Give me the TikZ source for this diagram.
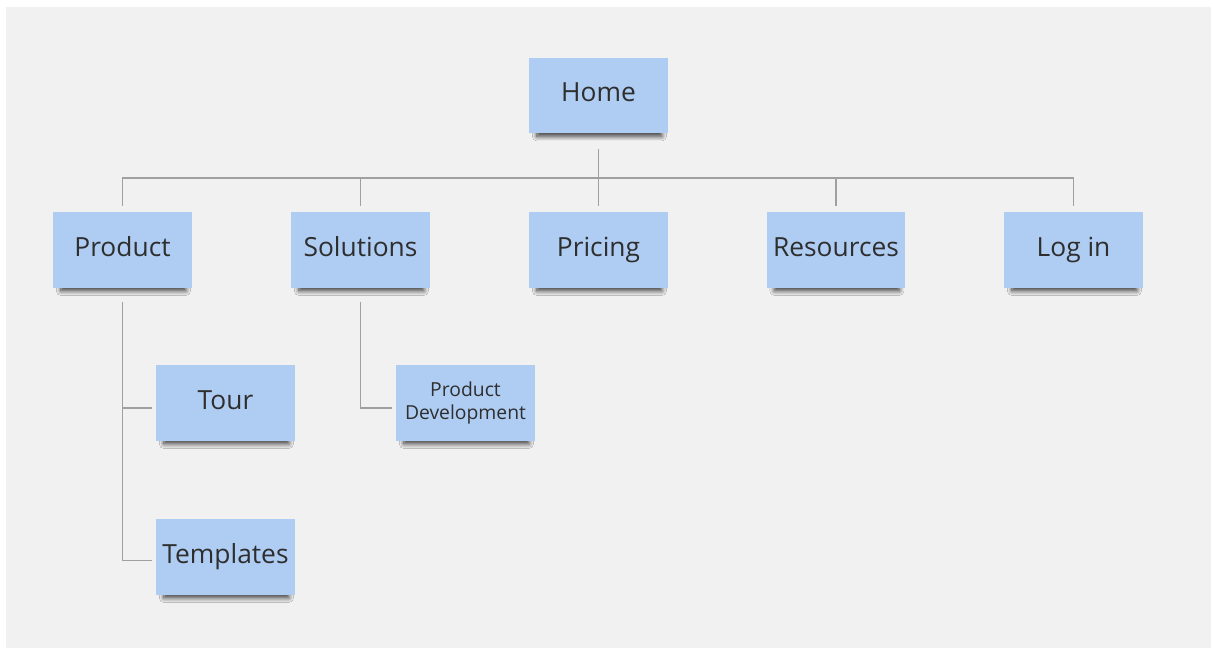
\documentclass[tikz,border=0pt]{standalone}
\usepackage{fontspec}
\setmainfont{Open Sans}
\usetikzlibrary{shadows.blur}

\definecolor{note}{HTML}{AFCDF3}
\definecolor{board}{HTML}{F1F1F1}
\definecolor{wire}{HTML}{A0A0A0}
\definecolor{ink}{HTML}{2E2E2E}

\tikzset{
    sticky/.style={fill=note, text=ink, minimum width=2.78cm, minimum height=1.52cm,
        inner sep=0pt, align=center, font=\fontsize{15}{18}\selectfont,
        text height=11pt, text depth=4pt,
        blur shadow={shadow xshift=0.02cm, shadow yshift=-0.15cm, shadow scale=0.9,
            shadow blur radius=0.1cm, shadow blur steps=10, shadow opacity=75}},
    link/.style={draw=wire, line width=0.9pt}
}

\begin{document}
\begin{tikzpicture}[x=0.02cm, y=-0.02cm]
    % board
    \fill[white] (0,0) rectangle (1213,651);
    \fill[board] (6,7) rectangle (1211,648);

    % top level
    \node[sticky](home)      at (598.5,95.5) {Home};
    \node[sticky](product)   at (122.5,250)  {Product};
    \node[sticky](solutions) at (360.5,250)  {Solutions};
    \node[sticky](pricing)   at (598.5,250)  {Pricing};
    \node[sticky](resources) at (836,250)    {Resources};
    \node[sticky](login)     at (1073.5,250) {Log in};

    % second level
    \node[sticky](tour)      at (225.5,403)  {Tour};
    \node[sticky](templates) at (225.5,557)  {Templates};
    \node[sticky, font=\fontsize{11}{13}\selectfont, text height=, text depth=](devel) at (465.5,403) {Product\\Development};

    \coordinate (hub) at (598.5,178);

    \draw[link, shorten <=0.3cm] (home) -- (hub);
    \draw[link, shorten >=0.12cm] (hub) -| (product);
    \draw[link, shorten >=0.12cm] (hub) -| (solutions);
    \draw[link, shorten >=0.12cm] (hub) -- (pricing);
    \draw[link, shorten >=0.12cm] (hub) -| (resources);
    \draw[link, shorten >=0.12cm] (hub) -| (login);

    \draw[link, shorten <=0.28cm, shorten >=0.08cm] (product) |- ([yshift=-0.1cm]tour.west);
    \draw[link, shorten <=0.28cm, shorten >=0.08cm] (product) |- ([yshift=-0.07cm]templates.west);
    \draw[link, shorten <=0.28cm, shorten >=0.08cm] (solutions) |- ([yshift=-0.1cm]devel.west);
\end{tikzpicture}
\end{document}
